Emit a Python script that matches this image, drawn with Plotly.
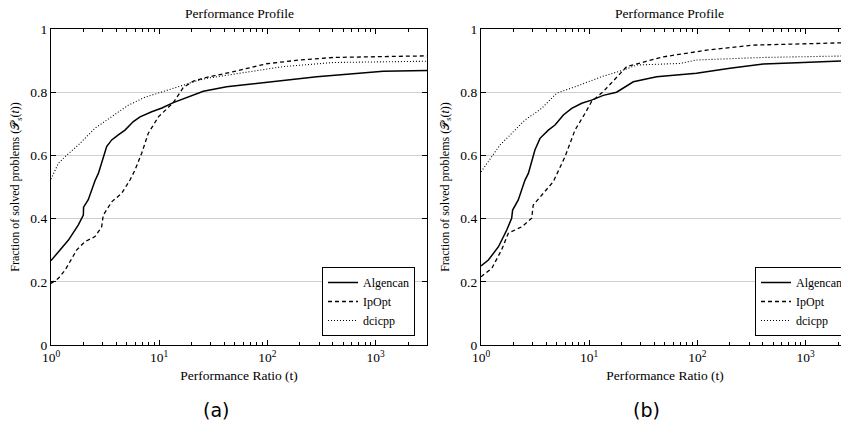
import plotly.graph_objects as go

# ---------------- data ----------------
series_names = ["Algencan", "IpOpt", "dcicpp"]

# (a)
alg_a_t = [1, 1.17, 1.45, 1.79, 1.99, 2.0, 2.21, 2.55, 2.74, 3.27, 3.64, 4.19, 4.83, 5.77, 6.65, 8.53, 10.6, 13.5, 15.6, 25.6, 42, 113, 286, 1175, 3000]
alg_a_f = [0.267, 0.295, 0.332, 0.380, 0.411, 0.436, 0.46, 0.52, 0.543, 0.628, 0.649, 0.665, 0.680, 0.707, 0.722, 0.738, 0.750, 0.767, 0.775, 0.803, 0.817, 0.833, 0.849, 0.866, 0.869]
ipo_a_t = [1, 1.17, 1.35, 1.73, 2.06, 2.55, 2.94, 3.04, 3.64, 4.50, 5.37, 5.98, 6.89, 7.93, 9.83, 13.5, 16.7, 20.7, 27.5, 48.4, 98, 200, 408, 3000]
ipo_a_f = [0.195, 0.211, 0.237, 0.301, 0.327, 0.343, 0.374, 0.411, 0.453, 0.480, 0.522, 0.554, 0.607, 0.670, 0.722, 0.767, 0.815, 0.835, 0.847, 0.865, 0.89, 0.902, 0.91, 0.915]
dci_a_t = [1, 1.17, 1.40, 1.79, 2.55, 3.64, 5.18, 7.39, 10.6, 14.0, 23.8, 27.5, 69, 140, 408, 3000]
dci_a_f = [0.525, 0.575, 0.601, 0.633, 0.686, 0.722, 0.759, 0.784, 0.802, 0.814, 0.839, 0.844, 0.865, 0.881, 0.894, 0.898]

# (b)
alg_b_t = [1, 1.17, 1.45, 1.73, 1.92, 1.96, 2.21, 2.55, 2.74, 3.15, 3.51, 4.19, 4.83, 5.77, 6.89, 8.53, 10.5, 13.5, 17.9, 25.6, 42, 98, 200, 406, 828, 2600]
alg_b_f = [0.250, 0.269, 0.311, 0.364, 0.401, 0.427, 0.459, 0.522, 0.543, 0.617, 0.654, 0.680, 0.696, 0.728, 0.749, 0.765, 0.775, 0.790, 0.800, 0.833, 0.849, 0.860, 0.876, 0.889, 0.893, 0.900]
ipo_b_t = [1, 1.26, 1.55, 1.79, 2.38, 2.94, 3.04, 3.64, 4.66, 5.98, 7.39, 9.16, 10.5, 13.5, 17, 22.2, 48.4, 122, 329, 2600]
ipo_b_f = [0.216, 0.243, 0.301, 0.354, 0.374, 0.401, 0.443, 0.475, 0.517, 0.596, 0.680, 0.733, 0.770, 0.802, 0.84, 0.881, 0.912, 0.933, 0.949, 0.957]
dci_b_t = [1, 1.26, 1.50, 1.79, 2.55, 3.64, 5.01, 7.39, 13.0, 20.7, 27.5, 69, 98, 406, 2600]
dci_b_f = [0.548, 0.596, 0.633, 0.659, 0.712, 0.749, 0.797, 0.817, 0.849, 0.870, 0.886, 0.891, 0.902, 0.910, 0.915]

x_tick_vals = [1, 10, 100, 1000]
x_tick_text = ["10<sup>0</sup>", "10<sup>1</sup>", "10<sup>2</sup>", "10<sup>3</sup>"]
x_minor_vals = [m * d for d in (1, 10, 100, 1000) for m in range(2, 10)]
y_tick_vals = [0, 0.2, 0.4, 0.6, 0.8, 1]
y_tick_text = ["0", "0.2", "0.4", "0.6", "0.8", "1"]

# ---------------- figure ----------------
OFF = 8                      # page body margin of the browser
W, H = 849 - OFF, 425 - OFF
SERIF = "Liberation Serif"
FS = 13.5
styles = [dict(color="black", width=1.5, dash="solid"),
          dict(color="black", width=1.3, dash="4px,3px"),
          dict(color="black", width=1.1, dash="1px,2px")]

fig = go.Figure()
panel_a = [(alg_a_t, alg_a_f), (ipo_a_t, ipo_a_f), (dci_a_t, dci_a_f)]
panel_b = [(alg_b_t, alg_b_f), (ipo_b_t, ipo_b_f), (dci_b_t, dci_b_f)]
for i, (t, f) in enumerate(panel_a):
    fig.add_trace(go.Scatter(x=t, y=f, mode="lines", name=series_names[i], line=styles[i],
                             xaxis="x", yaxis="y", legend="legend"))
for i, (t, f) in enumerate(panel_b):
    fig.add_trace(go.Scatter(x=t, y=f, mode="lines", name=series_names[i], line=styles[i],
                             xaxis="x2", yaxis="y2", legend="legend2"))

def px_x(p):
    return (p - OFF) / W

def px_y(p):
    return (H - (p - OFF)) / H

xa_common = dict(type="log", tickmode="array", tickvals=x_tick_vals, ticktext=x_tick_text,
                 ticks="inside", ticklen=5, tickcolor="black",
                 showline=True, linecolor="black", linewidth=1.3, automargin=False,
                 showgrid=False, zeroline=False, tickfont=dict(family=SERIF, size=FS, color="black"),
                 minor=dict(tickmode="array", tickvals=x_minor_vals, ticks="inside", ticklen=3,
                            tickcolor="black", showgrid=False),
                 title=dict(text="Performance Ratio (t)", font=dict(family=SERIF, size=FS, color="black"),
                            standoff=6))
ya_common = dict(range=[0, 1], tickmode="array", tickvals=y_tick_vals, ticktext=y_tick_text,
                 ticks="inside", ticklen=5, tickcolor="black", automargin=False,
                 showline=True, linecolor="black", linewidth=1.3,
                 showgrid=True, gridcolor="#cfcfcf", gridwidth=1, zeroline=False,
                 tickfont=dict(family=SERIF, size=FS, color="black"),
                 title=dict(text="Fraction of solved problems (𝒫<sub>s</sub>(<i>t</i>))",
                            font=dict(family=SERIF, size=12, color="black"), standoff=8))

legend_common = dict(yanchor="bottom", xanchor="right", bordercolor="black", borderwidth=1,
                     bgcolor="white", font=dict(family=SERIF, size=12, color="black"),
                     itemwidth=30, tracegroupgap=0, traceorder="normal")

fig.update_layout(
    width=W, height=H,
    margin=dict(l=0, r=0, t=0, b=0, autoexpand=False),
    paper_bgcolor="white", plot_bgcolor="white",
    showlegend=True,
    xaxis=dict(xa_common, domain=[px_x(51), px_x(427)], range=[0, 3.475], anchor="y", mirror="allticks"),
    yaxis=dict(ya_common, domain=[px_y(345), px_y(29)], anchor="x", mirror="allticks"),
    xaxis2=dict(xa_common, domain=[px_x(481), 1.0], range=[0, 3.401], anchor="y2", mirror="allticks"),
    yaxis2=dict(ya_common, domain=[px_y(345), px_y(29)], anchor="x2", mirror=False),
    legend=dict(legend_common, x=px_x(415), y=px_y(336)),
    legend2=dict(legend_common, x=px_x(848), y=px_y(336)),
)

annotations = [
    dict(text="Performance Profile", x=px_x(239), y=px_y(13)),
    dict(text="Performance Profile", x=px_x(669), y=px_y(13)),
    dict(text="(a)", x=px_x(216), y=px_y(410), font=dict(family="DejaVu Sans", size=19, color="black")),
    dict(text="(b)", x=px_x(646), y=px_y(410), font=dict(family="DejaVu Sans", size=19, color="black")),
]
for a in annotations:
    a.update(xref="paper", yref="paper", showarrow=False, xanchor="center", yanchor="middle")
    a.setdefault("font", dict(family=SERIF, size=FS, color="black"))
fig.update_layout(annotations=annotations)

fig.write_html("out.html")
